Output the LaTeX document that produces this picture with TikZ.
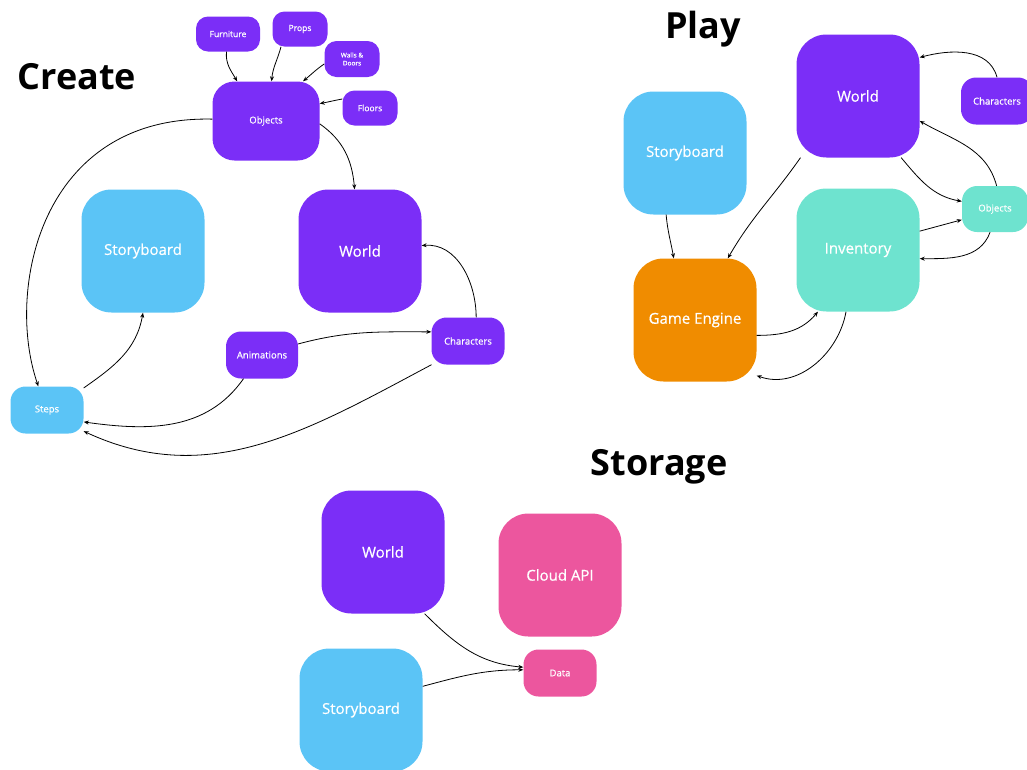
\documentclass[tikz,border=0pt]{standalone}
\usepackage{fontspec}
\setmainfont{Open Sans}
\newfontfamily\labelfont{Open Sans}[FakeBold=0.6]
\usetikzlibrary{arrows.meta}
\definecolor{cpurple}{RGB}{123,46,247}
\definecolor{cblue}{RGB}{91,196,246}
\definecolor{cteal}{RGB}{110,227,207}
\definecolor{corange}{RGB}{240,140,0}
\definecolor{cpink}{RGB}{236,86,158}
\tikzset{
  box/.style={fill=#1, text=white, inner sep=0pt, align=center},
  bigbox/.style={box=#1, minimum width=123pt, minimum height=123pt, rounded corners=30pt,
    font=\labelfont\fontsize{15}{18}\selectfont},
  midbox/.style={box=#1, minimum width=73pt, minimum height=47pt, rounded corners=15pt,
    font=\labelfont\fontsize{9.5}{11}\selectfont},
  tinybox/.style={box=#1, minimum height=35pt, rounded corners=12pt,
    font=\labelfont\fontsize{8.5}{10}\selectfont},
  title/.style={font=\fontsize{36}{40}\selectfont\bfseries, text=black},
  link/.style={draw=black, line width=0.8pt, -{Stealth[length=5pt,width=4pt]}},
}
\begin{document}
\begin{tikzpicture}[x=1pt,y=1pt]
\useasboundingbox (0,0) rectangle (1027,-769);
\clip (0,0) rectangle (1027,-769);

% ---------- Create ----------
\node[title] (tcreate) at (77,-77) {Create};
\node[tinybox=cpurple, minimum width=64pt] (furn) at (228,-34) {Furniture};
\node[tinybox=cpurple, minimum width=55pt] (props) at (300,-29) {Props};
\node[tinybox=cpurple, minimum width=55pt, minimum height=36pt,
      font=\labelfont\fontsize{6.5}{8}\selectfont] (walls) at (352,-59) {Walls \&\\Doors};
\node[tinybox=cpurple, minimum width=55pt] (floors) at (370,-108) {Floors};
\node[box=cpurple, minimum width=107pt, minimum height=79pt, rounded corners=22pt,
      font=\labelfont\fontsize{9.5}{11}\selectfont] (obj) at (266,-121) {Objects};
\node[bigbox=cblue] (csb) at (143,-251) {Storyboard};
\node[bigbox=cpurple] (cworld) at (360,-251) {World};
\node[midbox=cpurple, minimum width=72pt] (anim) at (262,-355) {Animations};
\node[midbox=cpurple] (cchar) at (468,-341) {Characters};
\node[midbox=cblue] (steps) at (47,-410) {Steps};

\draw[link] (furn.-95) to[out=-95, in=120] (obj.126);
\draw[link] (props.-137) to[out=-105, in=85] (obj.82);
\draw[link] (walls.190) to[out=215, in=40] (obj.47);
\draw[link] (floors.162) to[out=190, in=10] (obj.18);
\draw[link] (obj.-3) to[out=-35, in=95] (cworld.95);
\draw[link] (obj.178) .. controls +(-173,4) and +(-33,95) .. (steps.110);
\draw[link] (steps.31) to[out=35, in=-100] (csb.-90);
\draw[link] (cchar.71) to[out=90, in=5] (cworld.5);
\draw[link] (anim.17) to[out=15, in=180] (cchar.166);
\draw[link] (anim.-128) to[out=-125, in=-8] (steps.-18);
\draw[link] (cchar.-147) to[out=-152, in=-25] (steps.-30);

% ---------- Play ----------
\node[title] (tplay) at (703,-29) {Play};
\node[bigbox=cpurple] (pworld) at (858,-96) {World};
\node[midbox=cpurple, minimum width=72pt] (pchar) at (997,-101) {Characters};
\node[bigbox=cblue] (psb) at (685,-153) {Storyboard};
\node[midbox=cteal, minimum width=66pt, minimum height=46pt] (pobj) at (995,-209) {Objects};
\node[bigbox=cteal] (inv) at (858,-250) {Inventory};
\node[bigbox=corange] (geng) at (695,-320) {Game Engine};

\draw[link] (pchar.90) to[out=105, in=15] (pworld.32);
\draw[link] (pobj.86) to[out=105, in=-30] (pworld.-22);
\draw[link] (pworld.-55) to[out=-50, in=170] (pobj.167);
\draw[link] (pworld.-133) to[out=-125, in=60] (geng.62);
\draw[link] (psb.-107) to[out=-85, in=100] (geng.109);
\draw[link] (inv.17) to[out=15, in=195] (pobj.198);
\draw[link] (pobj.-102) to[out=-110, in=0] (inv.-8);
\draw[link] (geng.-14) to[out=0, in=-130] (inv.-123);
\draw[link] (inv.-101) to[out=-100, in=-20] (geng.-42);

% ---------- Storage ----------
\node[title] (tstore) at (659,-467) {Storage};
\node[bigbox=cpurple] (sworld) at (383,-552) {World};
\node[bigbox=cpink] (cloud) at (560,-575) {Cloud API};
\node[midbox=cpink] (data) at (560,-673) {Data};
\node[bigbox=cblue] (ssb) at (361,-710) {Storyboard};

\draw[link] (sworld.-56) to[out=-45, in=175] (data.171);
\draw[link] (ssb.21) to[out=15, in=180] (data.175);
\end{tikzpicture}
\end{document}
